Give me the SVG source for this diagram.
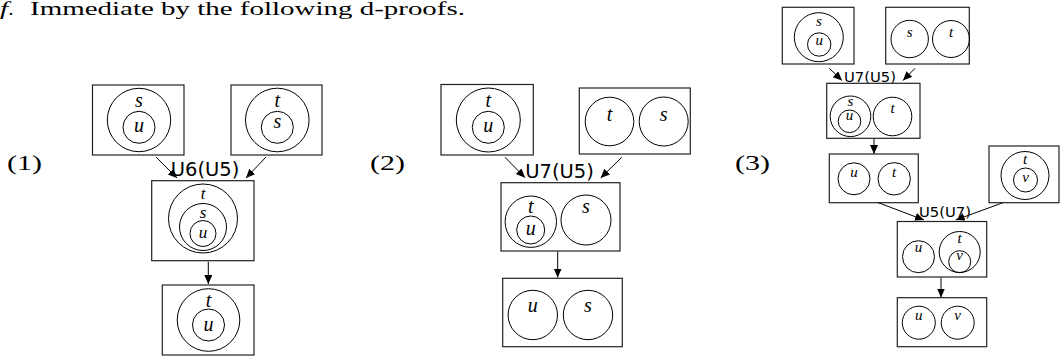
<svg xmlns="http://www.w3.org/2000/svg" width="1061" height="356" viewBox="0 0 1061 356">
<style>
.bx{fill:none;stroke:#222;stroke-width:1.2}
.c{fill:none;stroke:#000;stroke-width:1}
.m{font-family:"Liberation Serif",serif;font-style:italic;text-anchor:middle;fill:#000}
.L{font-size:20px}
.M{font-size:17px}
.S{font-size:15px}
.rule{font-family:"DejaVu Sans",sans-serif;text-anchor:middle;fill:#000}
.num{font-family:"Liberation Serif",serif;font-size:22px;fill:#000}
.e{stroke:#000;stroke-width:1;fill:none;marker-end:url(#ah)}
</style>
<defs>
<marker id="ah" markerUnits="userSpaceOnUse" markerWidth="10" markerHeight="10" refX="9" refY="4" orient="auto">
<path d="M0,0 L9,4 L0,8 Z" fill="#000"/>
</marker>
</defs>
<rect width="1061" height="356" fill="#fff"/>
<g id="header">
<text x="0" y="14.5" font-family="Liberation Serif,serif" font-size="19" font-style="italic" textLength="8" lengthAdjust="spacingAndGlyphs">f</text>
<text x="8.5" y="14.5" font-family="Liberation Serif,serif" font-size="19">.</text>
<text x="30" y="14.5" font-family="Liberation Serif,serif" font-size="19" textLength="435" lengthAdjust="spacingAndGlyphs">Immediate by the following d-proofs.</text>
</g>
<g id="labels">
<text class="num" x="7" y="170" textLength="35" lengthAdjust="spacingAndGlyphs">(1)</text>
<text class="num" x="370" y="170" textLength="35" lengthAdjust="spacingAndGlyphs">(2)</text>
<text class="num" x="735" y="170" textLength="35" lengthAdjust="spacingAndGlyphs">(3)</text>
</g>
<g id="connectors">
<line class="e" x1="156" y1="157" x2="177" y2="178"/>
<line class="e" x1="266" y1="157" x2="246" y2="178"/>
<text class="rule" x="205" y="176" font-size="19.5">U6(U5)</text>
<line class="e" x1="208.3" y1="261.7" x2="208.3" y2="284"/>
<line class="e" x1="505" y1="157.3" x2="525" y2="177.7"/>
<line class="e" x1="621.7" y1="157.3" x2="600.7" y2="178"/>
<text class="rule" x="559.5" y="177.5" font-size="19.5">U7(U5)</text>
<line class="e" x1="557.7" y1="251.5" x2="557.7" y2="277.5"/>
<line class="e" x1="829.3" y1="68.3" x2="842" y2="80.5"/>
<line class="e" x1="915" y1="68.3" x2="903" y2="80.5"/>
<text class="rule" x="870" y="81.5" font-size="14.8">U7(U5)</text>
<line class="e" x1="874" y1="139" x2="874" y2="154"/>
<line class="e" x1="877.3" y1="202.3" x2="924" y2="220"/>
<line class="e" x1="1004" y1="202.3" x2="955.7" y2="220"/>
<text class="rule" x="945" y="217.3" font-size="14.8">U5(U7)</text>
<line class="e" x1="941" y1="277.5" x2="941" y2="297.5"/>
</g>
<g id="n1a">
<rect class="bx" x="92.5" y="85" width="91.5" height="70"/>
<circle class="c" cx="139" cy="120" r="31.7"/>
<circle class="c" cx="139" cy="127.3" r="16"/>
<text class="m L" x="139" y="107.3">s</text>
<text class="m L" x="139" y="131.7">u</text>
</g>
<g id="n1b">
<rect class="bx" x="231" y="85" width="91" height="70"/>
<circle class="c" cx="277.3" cy="120" r="31.8"/>
<circle class="c" cx="277.3" cy="127.3" r="16"/>
<text class="m L" x="277.3" y="107.3">t</text>
<text class="m L" x="277.3" y="127.5">s</text>
</g>
<g id="n1c">
<rect class="bx" x="151.7" y="180.7" width="102.3" height="80"/>
<circle class="c" cx="203" cy="218.5" r="34.5"/>
<circle class="c" cx="203" cy="227" r="23.5"/>
<circle class="c" cx="203" cy="233.5" r="13"/>
<text class="m M" x="203" y="199">t</text>
<text class="m M" x="203" y="218.3">s</text>
<text class="m M" x="203" y="238.3">u</text>
</g>
<g id="n1d">
<rect class="bx" x="162.3" y="285" width="91.7" height="70"/>
<circle class="c" cx="208.5" cy="320" r="31.3"/>
<circle class="c" cx="208.5" cy="325" r="16"/>
<text class="m L" x="208.5" y="306.7">t</text>
<text class="m L" x="208.5" y="330.7">u</text>
</g>
<g id="n2a">
<rect class="bx" x="441" y="84.5" width="92.3" height="70.5"/>
<circle class="c" cx="488.3" cy="120" r="32"/>
<circle class="c" cx="488.3" cy="127.3" r="16"/>
<text class="m L" x="488.3" y="107.3">t</text>
<text class="m L" x="488.3" y="131.7">u</text>
</g>
<g id="n2b">
<rect class="bx" x="579.3" y="88" width="111" height="66"/>
<circle class="c" cx="609.5" cy="121.5" r="24.3"/>
<circle class="c" cx="663.7" cy="121.5" r="24.5"/>
<text class="m L" x="609.5" y="120.5">t</text>
<text class="m L" x="663.7" y="120.5">s</text>
</g>
<g id="n2c">
<rect class="bx" x="501" y="182.7" width="119" height="68.3"/>
<circle class="c" cx="530.8" cy="221.7" r="25.7"/>
<circle class="c" cx="530.7" cy="230" r="14"/>
<circle class="c" cx="586" cy="220" r="25"/>
<text class="m L" x="530.8" y="213.3">t</text>
<text class="m L" x="530.7" y="235">u</text>
<text class="m L" x="586" y="213.3">s</text>
</g>
<g id="n2d">
<rect class="bx" x="502.7" y="278.3" width="119.6" height="68.4"/>
<circle class="c" cx="532.8" cy="315" r="24.7"/>
<circle class="c" cx="588" cy="315" r="24.7"/>
<text class="m L" x="532.8" y="311.7">u</text>
<text class="m L" x="588" y="311.7">s</text>
</g>
<g id="n3a">
<rect class="bx" x="782.3" y="7.3" width="71.7" height="56.7"/>
<circle class="c" cx="818.8" cy="37.2" r="24.5"/>
<circle class="c" cx="819.2" cy="44.5" r="11.7"/>
<text class="m S" x="818.8" y="26">s</text>
<text class="m S" x="819.2" y="45">u</text>
</g>
<g id="n3b">
<rect class="bx" x="885.7" y="7.3" width="83.6" height="56.7"/>
<circle class="c" cx="909.7" cy="39" r="18.7"/>
<circle class="c" cx="951" cy="39" r="18.5"/>
<text class="m S" x="909.7" y="36.7">s</text>
<text class="m S" x="951" y="36.7">t</text>
</g>
<g id="n3c">
<rect class="bx" x="826.7" y="83.3" width="93.3" height="55"/>
<circle class="c" cx="850.5" cy="116.3" r="20.3"/>
<circle class="c" cx="849.5" cy="121.3" r="11.3"/>
<circle class="c" cx="892.5" cy="116.5" r="19.3"/>
<text class="m S" x="850.5" y="106">s</text>
<text class="m S" x="849.5" y="120">u</text>
<text class="m S" x="892.5" y="113">t</text>
</g>
<g id="n3d">
<rect class="bx" x="829.3" y="154" width="89" height="48.7"/>
<circle class="c" cx="854" cy="178.8" r="16"/>
<circle class="c" cx="894.2" cy="178.8" r="16.2"/>
<text class="m S" x="854" y="177.3">u</text>
<text class="m S" x="894.2" y="177.3">t</text>
</g>
<g id="n3e">
<rect class="bx" x="989" y="146" width="70" height="56.7"/>
<circle class="c" cx="1025" cy="175.5" r="24"/>
<circle class="c" cx="1025.5" cy="180" r="12"/>
<text class="m S" x="1025" y="164">t</text>
<text class="m S" x="1025.5" y="181.7">v</text>
</g>
<g id="n3f">
<rect class="bx" x="897.3" y="221.5" width="89.4" height="55.5"/>
<circle class="c" cx="918.5" cy="256.7" r="16"/>
<circle class="c" cx="959.7" cy="252" r="20.5"/>
<circle class="c" cx="959.7" cy="261.7" r="11"/>
<text class="m S" x="918.5" y="251.7">u</text>
<text class="m S" x="959.7" y="243.3">t</text>
<text class="m S" x="959.7" y="260">v</text>
</g>
<g id="n3g">
<rect class="bx" x="897.3" y="297.7" width="89.4" height="49"/>
<circle class="c" cx="918.8" cy="322.7" r="16.5"/>
<circle class="c" cx="957.7" cy="322.7" r="16.5"/>
<text class="m S" x="918.8" y="320">u</text>
<text class="m S" x="957.7" y="320">v</text>
</g>
</svg>
